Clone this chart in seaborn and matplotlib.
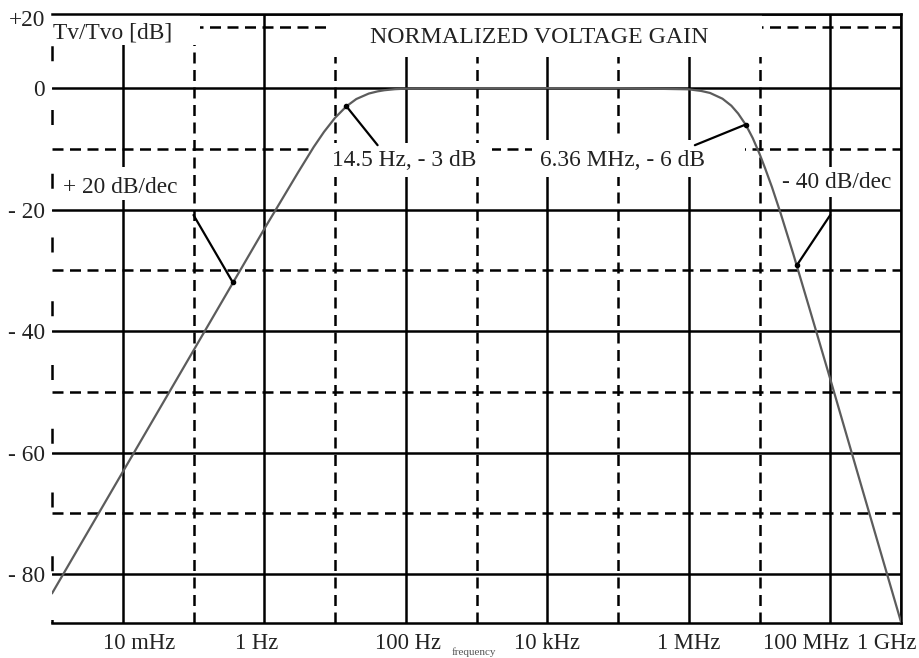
import matplotlib
matplotlib.use("Agg")
import matplotlib.pyplot as plt
import seaborn as sns
import pandas as pd
from matplotlib.patches import Rectangle
from matplotlib.lines import Line2D
from matplotlib.ticker import FixedLocator, FixedFormatter, NullFormatter
from matplotlib.transforms import ScaledTranslation

# ---- data ----
freq_hz = [1e-3, 1e-2, 1e-1, 1, 3, 5, 7, 10, 14.5, 20, 30, 40, 50, 70, 100,
           1e3, 1e4, 1e5, 1e6, 1.5e6, 2e6, 3e6, 4e6, 5e6, 6.36e6, 7e6, 8e6,
           1e7, 1.2e7, 1.5e7, 2e7, 3e7, 4e7, 5e7, 1e8, 3e8, 1e9]
gain_db = [-83.2, -63.2, -43.2, -23.2, -13.9, -9.7, -7.2, -4.9, -3.0, -1.8,
           -0.9, -0.54, -0.35, -0.18, -0.09, 0.0, 0.0, 0.0, -0.2, -0.47, -0.8,
           -1.75, -2.9, -4.2, -6.0, -6.9, -8.2, -10.8, -13.2, -16.3, -20.7,
           -27.3, -32.2, -36.0, -47.9, -67.0, -87.9]

x_tick_pos = [1e-2, 1, 1e2, 1e4, 1e6, 1e8, 1e9]
x_tick_labels = ["10 mHz", "1 Hz", "100 Hz", "10 kHz", "1 MHz", "100 MHz", "1 GHz"]
x_minor_pos = [1e-1, 1e1, 1e3, 1e5, 1e7]
y_tick_pos = [-80, -60, -40, -20, 0, 12.2]
y_tick_labels = ["- 80", "- 60", "- 40", "- 20", "0", "+20"]
y_minor_pos = [-70, -50, -30, -10, 10]

note_texts = ["Tv/Tvo [dB]", "NORMALIZED VOLTAGE GAIN", "+ 20 dB/dec",
              "14.5 Hz, - 3 dB", "6.36 MHz, - 6 dB", "- 40 dB/dec"]
note_x = [1.03e-3, 31, 1.42e-3, 9.0, 7.83e3, 2.06e7]
note_y = [9.05, 8.4, -16.3, -11.85, -11.85, -15.5]

leader_from_x = [0.1, 40, 1.22e6, 1e8]
leader_from_y = [-20.9, -9.4, -9.4, -20.9]
leader_to_x = [0.36, 14.5, 6.36e6, 3.36e7]
leader_to_y = [-32.0, -3.0, -6.0, -29.2]

x_label_text = "frequency"

# ---- layout ----
W, H = 919, 658
AX_L, AX_R, AX_T, AX_B = 52, 901, 14, 623

sns.set_theme(style="white")
plt.rcParams['font.family'] = ['Liberation Serif', 'DejaVu Serif']
FS = 16.8
TXT = '#222222'

fig = plt.figure(figsize=(W / 100, H / 100), dpi=100)
fig.patch.set_facecolor('white')
ax = fig.add_axes([AX_L / W, (H - AX_B) / H, (AX_R - AX_L) / W, (AX_B - AX_T) / H])
ax.set_xscale('log')
ax.set_xlim(1e-3, 1e9)
ax.set_ylim(-88.07, 12.2)


def px(x, y):
    return ((x - AX_L) / (AX_R - AX_L), (AX_B - y) / (AX_B - AX_T))


# grid
ax.xaxis.set_major_locator(FixedLocator(x_tick_pos))
ax.xaxis.set_major_formatter(FixedFormatter(x_tick_labels))
ax.xaxis.set_minor_locator(FixedLocator(x_minor_pos))
ax.xaxis.set_minor_formatter(NullFormatter())
ax.yaxis.set_major_locator(FixedLocator(y_tick_pos))
ax.yaxis.set_major_formatter(FixedFormatter(y_tick_labels))
ax.yaxis.set_minor_locator(FixedLocator(y_minor_pos))
ax.yaxis.set_minor_formatter(NullFormatter())
ax.set_axisbelow(True)
ax.grid(which='major', color='black', lw=1.8, ls='-')
ax.grid(which='minor', color='black', lw=1.8, ls=(0, (4.4, 2.6)))
ax.tick_params(which='both', length=0, labelsize=FS, labelcolor=TXT)
ax.tick_params(axis='x', pad=7, labelsize=FS - 0.5)
ax.tick_params(axis='y', pad=5)

x_shift_px = [16, -8, 2, 0, 0, -24, -14]
for lab, dx in zip(ax.get_xticklabels(), x_shift_px):
    lab.set_transform(lab.get_transform() + ScaledTranslation(dx / 100, 0, fig.dpi_scale_trans))
for lab in ax.get_yticklabels():
    if lab.get_text() == "+20":
        lab.set_transform(lab.get_transform() + ScaledTranslation(0, -4 / 100, fig.dpi_scale_trans))

# spines
for s in ['top', 'right', 'bottom']:
    ax.spines[s].set_color('black')
    ax.spines[s].set_linewidth(1.8)
ax.spines['left'].set_visible(False)
ax.add_line(Line2D([0, 0], [1, 0], transform=ax.transAxes, color='black', lw=1.8,
                   ls=(12.8, (6, 19.5)), clip_on=False, zorder=3))

# white boxes behind labels
boxes = [(52, 14, 200, 45), (330, 14, 762, 57), (315, 143, 492, 177),
         (532, 140, 745, 177), (775, 167, 895, 197), (60, 167, 182, 200)]
for x0, y0, x1, y1 in boxes:
    a0 = px(x0, y1)
    a1 = px(x1, y0)
    ax.add_patch(Rectangle(a0, a1[0] - a0[0], a1[1] - a0[1], transform=ax.transAxes,
                           facecolor='white', edgecolor='none', zorder=1))

# curve
df = pd.DataFrame({'f': freq_hz, 'g': gain_db})
sns.lineplot(data=df, x='f', y='g', ax=ax, color='#5c5c5c', lw=1.6, sort=False,
             zorder=4, estimator=None)
ax.set_xlabel('')
ax.set_ylabel('')

# leaders
for x0, y0, x1, y1 in zip(leader_from_x, leader_from_y, leader_to_x, leader_to_y):
    ax.plot([x0, x1], [y0, y1], color='black', lw=1.6, zorder=5)
    ax.plot([x1], [y1], 'o', color='black', ms=3, zorder=5)

# notes
for i, (t, x, y) in enumerate(zip(note_texts, note_x, note_y)):
    ax.text(x, y, t, fontsize=FS + (0.4 if i == 1 else 0), color=TXT,
            ha='left', va='center', zorder=6)

fig.text(474 / W, 1 / H, x_label_text, fontsize=8, color='#555555',
         ha='center', va='bottom')

fig.savefig('out.png', dpi=100, facecolor='white')
